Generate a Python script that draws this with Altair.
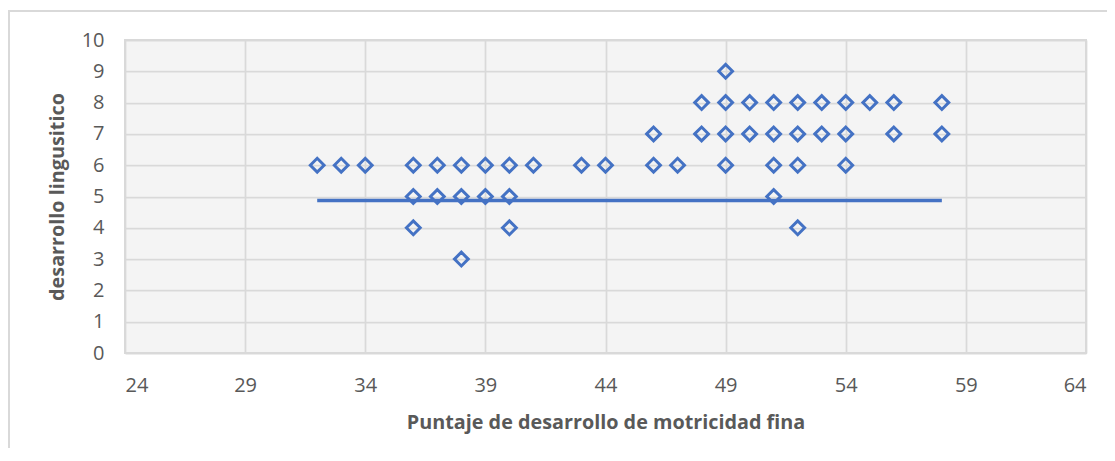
import altair as alt
import pandas as pd

# Scatter data (Puntaje de desarrollo de motricidad fina vs desarrollo lingusitico)
motricidad = [49,
              48, 49, 50, 51, 52, 53, 54, 55, 56, 58,
              46, 48, 49, 50, 51, 52, 53, 54, 56, 58,
              32, 33, 34, 36, 37, 38, 39, 40, 41, 43, 44, 46, 47, 49, 51, 52, 54,
              36, 37, 38, 39, 40, 51,
              36, 40, 52,
              38]
linguistico = [9,
               8, 8, 8, 8, 8, 8, 8, 8, 8, 8,
               7, 7, 7, 7, 7, 7, 7, 7, 7, 7,
               6, 6, 6, 6, 6, 6, 6, 6, 6, 6, 6, 6, 6, 6, 6, 6, 6,
               5, 5, 5, 5, 5, 5,
               4, 4, 4,
               3]

# Horizontal line series
line_x = [32, 58]
line_y = [4.87, 4.87]

x_ticks = [24, 29, 34, 39, 44, 49, 54, 59, 64]
y_ticks = [0, 1, 2, 3, 4, 5, 6, 7, 8, 9, 10]

pts = pd.DataFrame({"x": motricidad, "y": linguistico})
ln = pd.DataFrame({"x": line_x, "y": line_y})

BLUE = "#4472c4"
TXT = "#595959"
FONT = "Open Sans"
W, H = 961, 313

xscale = alt.Scale(domain=[24, 64], nice=False, zero=False)
yscale = alt.Scale(domain=[0, 10], nice=False)

xaxis = alt.Axis(values=x_ticks, title="Puntaje de desarrollo de motricidad fina",
                 labelPadding=22, titleX=W / 2, titleY=69, titleBaseline="middle",
                 titleAlign="center", format="d", labelOverlap=False)
yaxis = alt.Axis(values=y_ticks, title="desarrollo lingusitico",
                 labelPadding=21, titleX=-68, titleY=H / 2, titleBaseline="middle",
                 titleAlign="center", titleAngle=270, format="d", labelOverlap=False,
                 tickCount=11)

frame = alt.Chart(pd.DataFrame({"a": [0]})).mark_rect(
    filled=False, stroke="#d9d9d9", strokeWidth=2, clip=False
).encode(
    x=alt.value(-116), x2=alt.value(1010),
    y=alt.value(-29), y2=alt.value(440)
)

points = alt.Chart(pts).mark_point(
    shape="diamond", filled=False, size=190, strokeWidth=3, color=BLUE, opacity=1
).encode(
    x=alt.X("x:Q", scale=xscale, axis=xaxis),
    y=alt.Y("y:Q", scale=yscale, axis=yaxis),
)

line = alt.Chart(ln).mark_line(color=BLUE, strokeWidth=3.5).encode(
    x=alt.X("x:Q", scale=xscale, axis=xaxis),
    y=alt.Y("y:Q", scale=yscale, axis=yaxis),
)

chart = alt.layer(frame, points, line).properties(
    width=W, height=H,
    autosize=alt.AutoSizeParams(type="none"),
    padding={"left": 117, "top": 32, "right": 21, "bottom": 95},
).configure(
    background="white",
).configure_view(
    fill="#f4f4f4", stroke="#d9d9d9", strokeWidth=2
).configure_axis(
    grid=True, gridColor="#d9d9d9", gridWidth=1.75, domain=False, ticks=False,
    labelFont=FONT, labelFontSize=20, labelColor=TXT,
    titleFont=FONT, titleFontSize=19.8, titleFontWeight="bold", titleColor=TXT,
)

chart.save("out.html", embed_options={"renderer": "svg", "actions": False})
